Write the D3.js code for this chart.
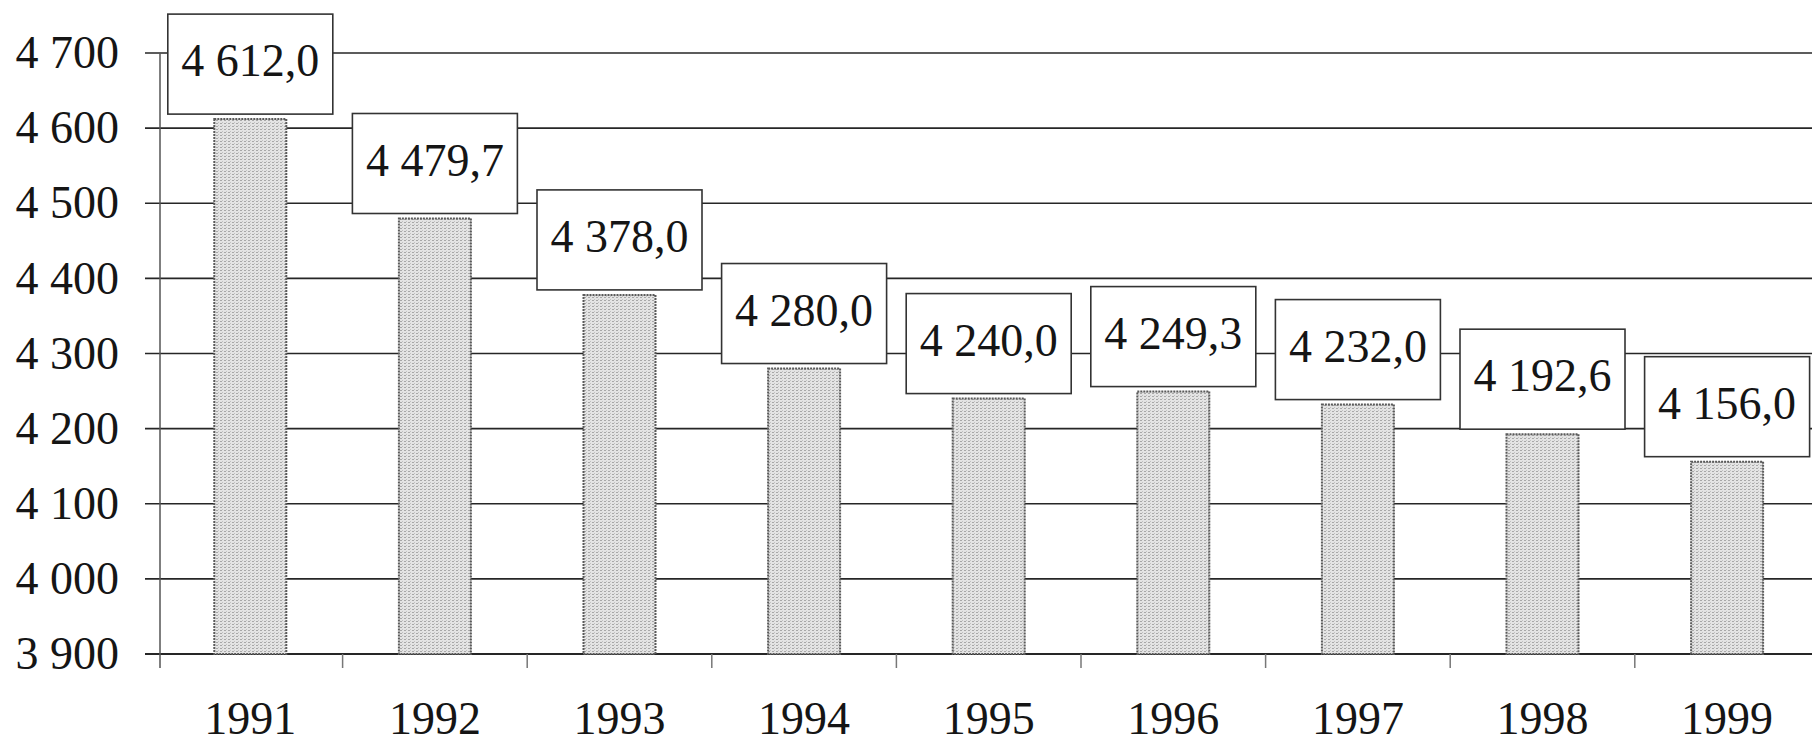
<!DOCTYPE html>
<html>
  <head>
    <meta charset="utf-8">
    <script src="https://cdnjs.cloudflare.com/ajax/libs/d3/7.8.5/d3.min.js"></script>
    <style type="text/css">
      body {
        margin: 0;
        padding: 0;
        background: #fff;
        overflow: hidden;
      }
      text {
        font-family: "Liberation Serif", "Times New Roman", serif;
        font-size: 46px;
        fill: #151515;
      }
    </style>
  </head>
  <body>
    <div id="chart"></div>
    <script type="text/javascript">
    const years = ['1991', '1992', '1993', '1994', '1995', '1996', '1997', '1998', '1999'];
    const values = [4612.0, 4479.7, 4378.0, 4280.0, 4240.0, 4249.3, 4232.0, 4192.6, 4156.0];
    const yTicks = [3900, 4000, 4100, 4200, 4300, 4400, 4500, 4600, 4700];

    const width = 1812, height = 743;
    const axisX = 160;

    const locale = d3.formatLocale({decimal: ',', thousands: '\u00a0', grouping: [3], currency: ['', '']});
    const fmtValue = locale.format(',.1f');
    const fmtTick = locale.format(',d');

    const svg = d3.select('#chart')
      .append('svg')
      .attr('width', width)
      .attr('height', height);

    // halftone-ish fill like the scanned bars
    const pattern = svg.append('defs')
      .append('pattern')
      .attr('id', 'dots')
      .attr('width', 4)
      .attr('height', 3)
      .attr('patternUnits', 'userSpaceOnUse');
    pattern.append('rect').attr('width', 4).attr('height', 3).attr('fill', '#e4e4e4');
    pattern.append('rect').attr('x', 0).attr('y', 0).attr('width', 2).attr('height', 1).attr('fill', '#a8a8a8');
    pattern.append('rect').attr('x', 2).attr('y', 2).attr('width', 1).attr('height', 1).attr('fill', '#c2c2c2');

    const x = d3.scaleBand()
      .domain(years)
      .range([158, 158 + 9 * 184.6])
      .paddingInner(0.61)
      .paddingOuter(0.305);

    const y = d3.scaleLinear()
      .domain([3900, 4700])
      .range([654, 53]);

    const data = years.map((yr, i) => ({year: yr, value: values[i]}));

    // grid lines (also act as y ticks)
    svg.append('g')
      .selectAll('line')
      .data(yTicks)
      .enter()
      .append('line')
      .attr('x1', axisX - 15)
      .attr('x2', width)
      .attr('y1', d => y(d))
      .attr('y2', d => y(d))
      .attr('stroke', '#262626')
      .attr('stroke-width', d => d === 3900 ? 2 : 1.6);

    svg.append('g')
      .selectAll('text')
      .data(yTicks)
      .enter()
      .append('text')
      .attr('x', 119)
      .attr('y', d => y(d))
      .attr('dy', '0.33em')
      .attr('text-anchor', 'end')
      .text(d => fmtTick(d));

    // y axis line
    svg.append('line')
      .attr('x1', axisX)
      .attr('x2', axisX)
      .attr('y1', y(4700))
      .attr('y2', y(3900) + 14)
      .attr('stroke', '#555')
      .attr('stroke-width', 1.5);

    // category ticks between years
    const bounds = d3.range(1, years.length + 1).map(i => x.range()[0] + i * x.step());
    svg.append('g')
      .selectAll('line')
      .data(bounds)
      .enter()
      .append('line')
      .attr('x1', d => d)
      .attr('x2', d => d)
      .attr('y1', y(3900))
      .attr('y2', y(3900) + 14)
      .attr('stroke', '#777')
      .attr('stroke-width', 1.5);

    svg.append('g')
      .selectAll('text')
      .data(years)
      .enter()
      .append('text')
      .attr('x', d => x(d) + x.bandwidth() / 2)
      .attr('y', 734)
      .attr('text-anchor', 'middle')
      .text(d => d);

    // bars
    svg.append('g')
      .selectAll('rect')
      .data(data)
      .enter()
      .append('rect')
      .attr('x', d => x(d.year))
      .attr('y', d => y(d.value))
      .attr('width', x.bandwidth())
      .attr('height', d => y(3900) - y(d.value))
      .attr('fill', 'url(#dots)')
      .attr('stroke', '#5a5a5a')
      .attr('stroke-width', 2)
      .attr('stroke-dasharray', '2,1');

    // value boxes
    const boxW = 165, boxH = 100;
    const labels = svg.append('g')
      .selectAll('g')
      .data(data)
      .enter()
      .append('g')
      .attr('transform', d => `translate(${x(d.year) + x.bandwidth() / 2 - boxW / 2},${y(d.value) - 5 - boxH})`);

    labels.append('rect')
      .attr('width', boxW)
      .attr('height', boxH)
      .attr('fill', '#fff')
      .attr('stroke', '#333')
      .attr('stroke-width', 1.6);

    labels.append('text')
      .attr('x', boxW / 2)
      .attr('y', 62)
      .attr('text-anchor', 'middle')
      .text(d => fmtValue(d.value));
    </script>
  </body>
</html>
